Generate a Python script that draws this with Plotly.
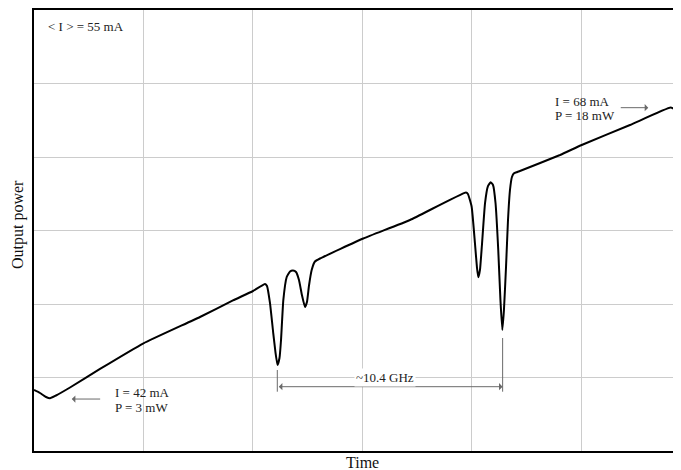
import plotly.graph_objects as go

# Trace (time and power in grid-division units)
time = [0.0, 0.055, 0.11, 0.146, 0.201, 0.329, 0.603, 1.0, 1.516, 1.817, 2.0, 2.11,
        2.128, 2.155, 2.185, 2.205, 2.224, 2.242, 2.256, 2.277, 2.308, 2.338, 2.365,
        2.393, 2.420, 2.447, 2.475, 2.493, 2.511, 2.536, 2.566, 2.612, 3.007, 3.434,
        3.945, 3.963, 3.997, 4.027, 4.046, 4.058, 4.073, 4.091, 4.119, 4.146, 4.171,
        4.192, 4.215, 4.240, 4.260, 4.277, 4.292, 4.311, 4.329, 4.347, 4.365, 4.384,
        4.438, 4.804, 5.002, 5.443, 5.815, 5.863, 5.909]
power = [0.83, 0.789, 0.735, 0.717, 0.755, 0.864, 1.116, 1.465, 1.823, 2.048, 2.177, 2.272,
         2.245, 2.014, 1.605, 1.347, 1.170, 1.265, 1.510, 2.054, 2.367, 2.442, 2.456,
         2.435, 2.327, 2.122, 1.959, 2.027, 2.245, 2.463, 2.578, 2.619, 2.891, 3.143,
         3.517, 3.497, 3.324, 2.830, 2.490, 2.363, 2.463, 2.803, 3.370, 3.605, 3.656,
         3.619, 3.374, 2.735, 2.054, 1.646, 1.918, 2.507, 3.143, 3.551, 3.728, 3.778,
         3.810, 4.027, 4.163, 4.435, 4.673, 4.639, 4.599]

x_range = [0, 5.909]
y_range = [0, 6]

mark_left = 2.222
mark_right = 4.280

serif = "Liberation Serif"
gray = "#6a6a6a"
txt = "#222222"

fig = go.Figure()
fig.add_trace(go.Scatter(x=time, y=power, mode="lines",
                         line=dict(color="black", width=2, shape="spline", smoothing=0.4),
                         hoverinfo="skip", showlegend=False))

# marker ticks for the ~10.4 GHz interval
fig.add_shape(type="line", x0=mark_left, x1=mark_left, y0=0.807, y1=1.102,
              line=dict(color=gray, width=1))
fig.add_shape(type="line", x0=mark_right, x1=mark_right, y0=0.807, y1=1.537,
              line=dict(color=gray, width=1))

ann = []
ann.append(dict(x=mark_right, y=0.875, ax=mark_left, ay=0.875, xref="x", yref="y",
                axref="x", ayref="y", text="", showarrow=True, arrowhead=1,
                arrowside="end+start", arrowsize=1.2, arrowwidth=1, arrowcolor=gray))
ann.append(dict(x=3.205, y=0.997, xref="x", yref="y", text="~10.4 GHz", showarrow=False,
                bgcolor="white", font=dict(family=serif, size=13, color=txt)))
# left label
ann.append(dict(x=0.345, y=0.707, ax=0.618, ay=0.707, xref="x", yref="y", axref="x",
                ayref="y", text="", showarrow=True, arrowhead=1, arrowsize=1.2,
                arrowwidth=1, arrowcolor=gray))
ann.append(dict(x=0.719, y=0.793, xref="x", yref="y", text="I = 42 mA", showarrow=False,
                xanchor="left", font=dict(family=serif, size=13, color=txt)))
ann.append(dict(x=0.719, y=0.589, xref="x", yref="y", text="P = 3 mW", showarrow=False,
                xanchor="left", font=dict(family=serif, size=13, color=txt)))
# right label
ann.append(dict(x=5.610, y=4.671, ax=5.345, ay=4.671, xref="x", yref="y", axref="x",
                ayref="y", text="", showarrow=True, arrowhead=1, arrowsize=1.2,
                arrowwidth=1, arrowcolor=gray))
ann.append(dict(x=4.742, y=4.752, xref="x", yref="y", text="I = 68 mA", showarrow=False,
                xanchor="left", font=dict(family=serif, size=13, color=txt)))
ann.append(dict(x=4.742, y=4.562, xref="x", yref="y", text="P = 18 mW", showarrow=False,
                xanchor="left", font=dict(family=serif, size=13, color=txt)))
# top-left note
ann.append(dict(x=0.107, y=5.773, xref="x", yref="y", text="< I > = 55 mA", showarrow=False,
                xanchor="left", font=dict(family=serif, size=13, color=txt)))
# axis titles
ann.append(dict(x=(362.5 - 34) / 647, y=-11 / 441, xref="paper", yref="paper", text="Time",
                showarrow=False, xanchor="center", yanchor="middle",
                font=dict(family=serif, size=16, color="#111")))
ann.append(dict(x=-16 / 647, y=(451 - 225) / 441, xref="paper", yref="paper",
                text="Output power", textangle=-90, showarrow=False,
                xanchor="center", yanchor="middle",
                font=dict(family=serif, size=16, color="#111")))

fig.update_layout(
    width=673, height=462,
    margin=dict(l=26, r=0, t=2, b=19),
    paper_bgcolor="white", plot_bgcolor="white",
    annotations=ann,
    xaxis=dict(range=x_range, dtick=1, tick0=0, showgrid=True, gridcolor="#cccccc",
               gridwidth=1, zeroline=False, showticklabels=False, ticks="",
               showline=True, linecolor="black", linewidth=2, mirror=True),
    yaxis=dict(range=y_range, dtick=1, tick0=0, showgrid=True, gridcolor="#cccccc",
               gridwidth=1, zeroline=False, showticklabels=False, ticks="",
               showline=True, linecolor="black", linewidth=2, mirror=False),
)

fig.write_html("out.html")
